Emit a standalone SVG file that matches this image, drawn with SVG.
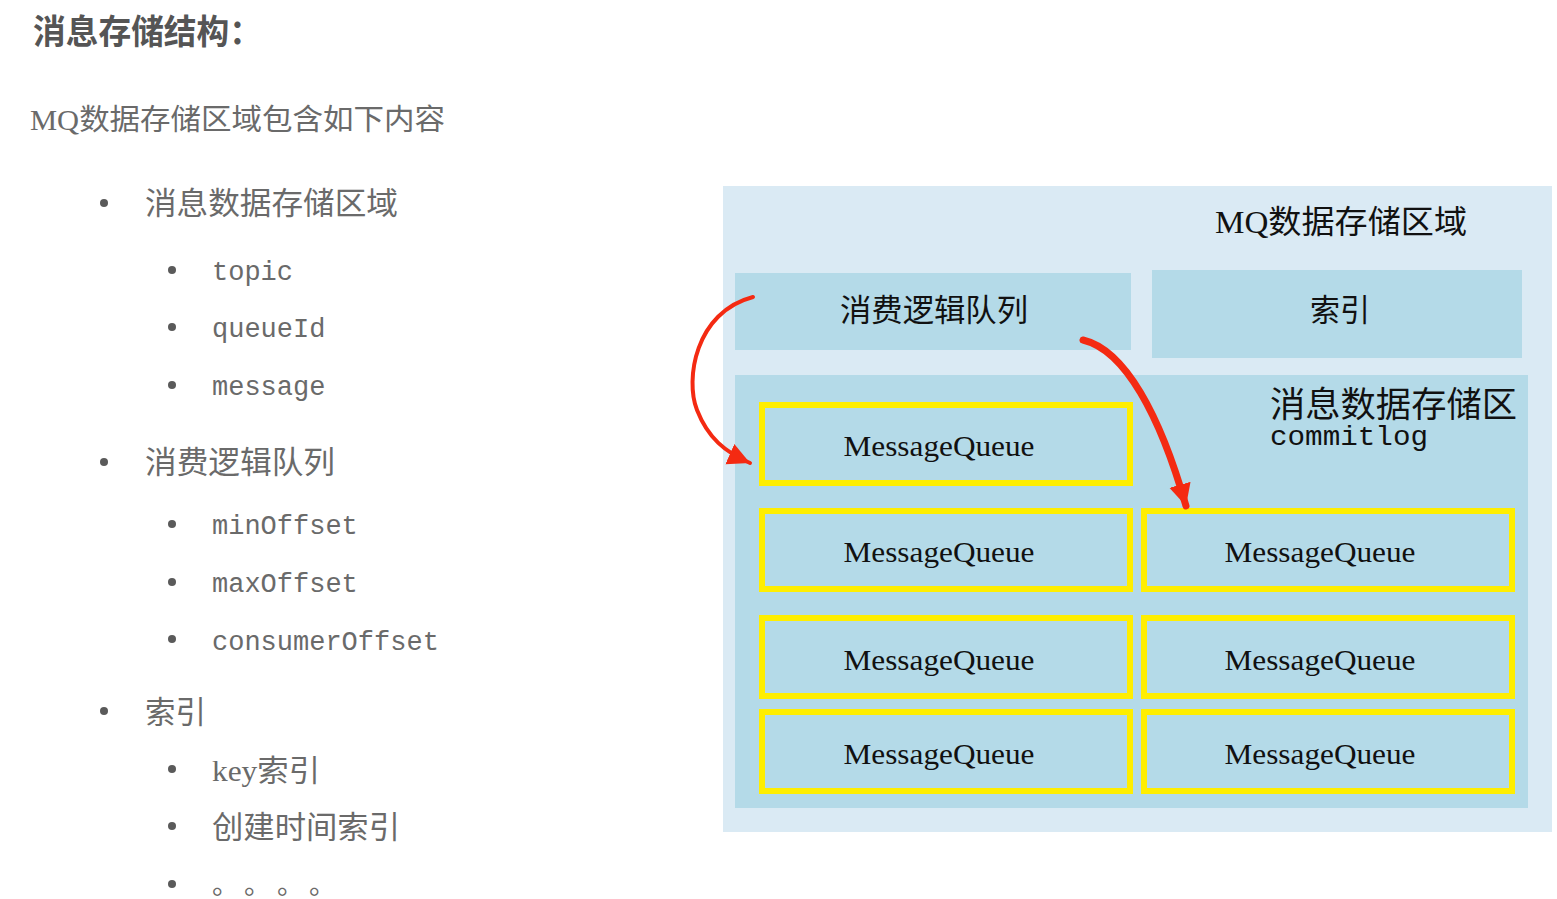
<svg xmlns="http://www.w3.org/2000/svg" width="1557" height="899" viewBox="0 0 1557 899">
<style>
.cjk{font-family:"Liberation Serif","Noto Sans CJK SC",serif;}
.mono{font-family:"Liberation Mono","Noto Sans CJK SC",monospace;}
.left{fill:#6a6a6a;}
.bul{fill:#5a5a5a;}
.lvl1{font-size:31px;}
.lvl2{font-size:27px;}
.panel{fill:#b4dae8;}
.mq rect{fill:#b4dae8;stroke:#ffee00;stroke-width:6;}
.mq text{font-family:"Liberation Serif",serif;font-size:30px;fill:#111;text-anchor:middle;}
.lbl{fill:#111;text-anchor:middle;}
.arrow{fill:none;stroke:#f42a12;stroke-linecap:round;}
</style>
<defs>
<marker id="ah" markerUnits="userSpaceOnUse" markerWidth="30" markerHeight="30" refX="22" refY="11" orient="auto">
<path d="M0,0 L22,11 L0,22 Z" fill="#f42a12"/>
</marker>
</defs>
<rect width="1557" height="899" fill="#ffffff"/>

<g id="left-text">
<text class="cjk" x="33" y="44" font-size="34" font-weight="bold" fill="#555" textLength="229" lengthAdjust="spacingAndGlyphs">消息存储结构：</text>
<text class="cjk left" x="30" y="130" font-size="29" textLength="415" lengthAdjust="spacingAndGlyphs">MQ数据存储区域包含如下内容</text>

<circle class="bul" cx="104" cy="203" r="4"/>
<text class="cjk left lvl1" x="145" y="214" textLength="253" lengthAdjust="spacingAndGlyphs">消息数据存储区域</text>
<circle class="bul" cx="172" cy="270" r="4"/>
<text class="mono left lvl2" x="212" y="280">topic</text>
<circle class="bul" cx="172" cy="327" r="4"/>
<text class="mono left lvl2" x="212" y="337">queueId</text>
<circle class="bul" cx="172" cy="385" r="4"/>
<text class="mono left lvl2" x="212" y="395">message</text>

<circle class="bul" cx="104" cy="462" r="4"/>
<text class="cjk left lvl1" x="145" y="473" textLength="190" lengthAdjust="spacingAndGlyphs">消费逻辑队列</text>
<circle class="bul" cx="172" cy="524" r="4"/>
<text class="mono left lvl2" x="212" y="534">minOffset</text>
<circle class="bul" cx="172" cy="582" r="4"/>
<text class="mono left lvl2" x="212" y="592">maxOffset</text>
<circle class="bul" cx="172" cy="639" r="4"/>
<text class="mono left lvl2" x="212" y="650">consumerOffset</text>

<circle class="bul" cx="104" cy="711" r="4"/>
<text class="cjk left lvl1" x="145" y="723" textLength="61" lengthAdjust="spacingAndGlyphs">索引</text>
<circle class="bul" cx="172" cy="769" r="4"/>
<text class="cjk left" x="212" y="781" font-size="30" textLength="108" lengthAdjust="spacingAndGlyphs">key索引</text>
<circle class="bul" cx="172" cy="826" r="4"/>
<text class="cjk left" x="212" y="838" font-size="31" textLength="188" lengthAdjust="spacingAndGlyphs">创建时间索引</text>
<circle class="bul" cx="172" cy="884" r="4"/>
<text class="cjk left" x="212 244 277 309" y="894" font-size="27">。。。。</text>
</g>

<g id="mq-area">
<rect x="723" y="186" width="829" height="646" fill="#daeaf4"/>
<text class="cjk lbl" x="1341" y="233" font-size="32" textLength="252" lengthAdjust="spacingAndGlyphs">MQ数据存储区域</text>
</g>

<g id="consume-queue">
<rect class="panel" x="735" y="273" width="396" height="77"/>
<text class="cjk lbl" x="934" y="321" font-size="31" textLength="188" lengthAdjust="spacingAndGlyphs">消费逻辑队列</text>
</g>

<g id="index">
<rect class="panel" x="1152" y="270" width="370" height="88"/>
<text class="cjk lbl" x="1340" y="321" font-size="31" textLength="60" lengthAdjust="spacingAndGlyphs">索引</text>
</g>

<g id="commitlog">
<rect class="panel" x="735" y="375" width="793" height="433"/>
<text class="cjk" x="1270" y="417" font-size="35" fill="#111" textLength="247" lengthAdjust="spacingAndGlyphs">消息数据存储区</text>
<text class="mono" x="1270" y="445" font-size="28" fill="#111" textLength="158" lengthAdjust="spacingAndGlyphs">commitlog</text>
</g>

<g id="mq1" class="mq"><rect x="762" y="405" width="368" height="78"/><text x="939" y="456" textLength="191" lengthAdjust="spacingAndGlyphs">MessageQueue</text></g>
<g id="mq2" class="mq"><rect x="762" y="511" width="368" height="78"/><text x="939" y="562" textLength="191" lengthAdjust="spacingAndGlyphs">MessageQueue</text></g>
<g id="mq3" class="mq"><rect x="1144" y="511" width="368" height="78"/><text x="1320" y="562" textLength="191" lengthAdjust="spacingAndGlyphs">MessageQueue</text></g>
<g id="mq4" class="mq"><rect x="762" y="618" width="368" height="78"/><text x="939" y="670" textLength="191" lengthAdjust="spacingAndGlyphs">MessageQueue</text></g>
<g id="mq5" class="mq"><rect x="1144" y="618" width="368" height="78"/><text x="1320" y="670" textLength="191" lengthAdjust="spacingAndGlyphs">MessageQueue</text></g>
<g id="mq6" class="mq"><rect x="762" y="712" width="368" height="79"/><text x="939" y="764" textLength="191" lengthAdjust="spacingAndGlyphs">MessageQueue</text></g>
<g id="mq7" class="mq"><rect x="1144" y="712" width="368" height="79"/><text x="1320" y="764" textLength="191" lengthAdjust="spacingAndGlyphs">MessageQueue</text></g>

<g id="connectors">
<path class="arrow" stroke-width="4" d="M753,297 C 695,312 685,380 697,410 C 708,438 725,452 750,463" marker-end="url(#ah)"/>
<path class="arrow" stroke-width="7" d="M1083,340 C 1125,350 1160,415 1186,506" marker-end="url(#ah)"/>
</g>
</svg>
